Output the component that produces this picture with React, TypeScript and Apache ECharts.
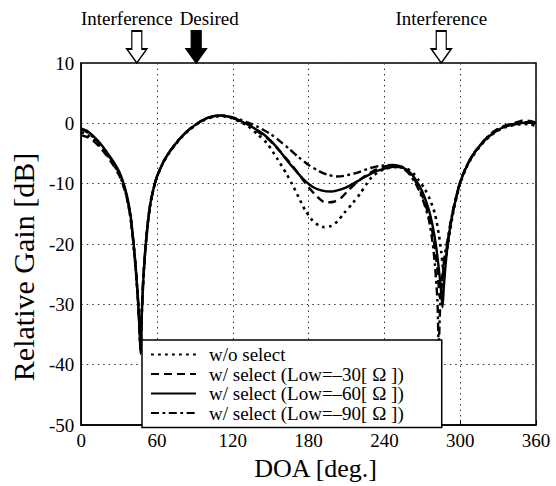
import React, { useEffect, useRef } from "react";
import * as echarts from "echarts";

// ---- data (DOA in degrees, relative gain in dB) ----
const SERIES_NAMES = [
  "w/o select",
  "w/ select (Low=–30[ Ω ])",
  "w/ select (Low=–60[ Ω ])",
  "w/ select (Low=–90[ Ω ])",
];

const woSelect: [number, number][] = [
  [0, -1.5], [5, -1.9], [10, -2.7], [15, -3.8], [20, -5.1], [25, -6.6], [30, -8.4], [33, -10], [36, -12.2],
  [39, -15.6], [41, -19.2], [43, -23.8], [45, -29.5], [46, -33], [47, -37.5], [48, -31], [49, -26.5], [50, -23],
  [51, -20.3], [53, -16], [55, -13], [58, -10.2], [60, -8.9], [65, -6.5], [70, -4.8], [75, -3.4], [80, -2.2],
  [85, -1.2], [90, -0.4], [95, 0.3], [100, 0.8], [105, 1.1], [110, 1.2], [115, 1.1], [120, 0.8], [125, 0.3],
  [131, -0.3], [140, -1.9], [147, -3.3], [155, -5.8], [162, -8.2], [167, -10.1], [172, -12.2], [177, -14.3],
  [183, -16.1], [188, -16.9], [192, -17.2], [198, -17], [203, -16.2], [208, -14.9], [215, -13.2], [221, -11.6],
  [226, -10.0], [230, -8.9], [235, -8.1], [240, -7.6], [246, -7.3], [252, -7.2], [258, -7.5], [263, -8.3],
  [267, -9.4], [272, -10.9], [276, -12.6], [280, -15], [283, -18.3], [285, -21.3], [286, -23.2], [287, -25],
  [288, -23.5], [289, -21.8], [290, -20.5], [292, -17.8], [295, -14.2], [300, -10], [305, -7.3], [310, -5.4],
  [315, -4.0], [320, -2.8], [325, -1.9], [330, -1.2], [335, -0.7], [340, -0.4], [345, -0.2], [350, -0.1],
  [355, -0.2], [360, -0.4],
];

const low30: [number, number][] = [
  [0, -2.0], [5, -2.3], [10, -3.0], [15, -4.0], [20, -5.3], [25, -6.8], [30, -8.6], [33, -10.1], [36, -12.3],
  [39, -15.6], [41, -19.2], [43, -23.8], [45, -29.5], [46, -33.2], [47, -37], [48, -31], [49, -26.3], [50, -22.8],
  [51, -20.2], [53, -16], [55, -13], [58, -10.2], [60, -8.8], [65, -6.4], [70, -4.7], [75, -3.3], [80, -2.1],
  [85, -1.1], [90, -0.3], [95, 0.4], [100, 0.9], [105, 1.2], [110, 1.3], [115, 1.2], [120, 0.9], [125, 0.5],
  [131, 0], [140, -1.4], [149, -2.8], [158, -4.8], [167, -7.0], [174, -8.9], [180, -10.6], [187, -12.2],
  [193, -13.1], [200, -13.0], [206, -12.3], [211, -11.2], [216, -10.2], [221, -9.3], [228, -8.3], [234, -7.6],
  [241, -7.1], [247, -6.9], [255, -7.3], [260, -8.2], [265, -9.8], [270, -12], [275, -15.2], [278, -18],
  [280, -20.8], [282, -24.3], [284, -29], [285, -27.5], [286, -25.5], [287, -23.8], [288, -22.3], [290, -19.8],
  [292, -17], [295, -13.8], [300, -9.7], [305, -7.1], [310, -5.2], [315, -3.8], [320, -2.6], [325, -1.6],
  [330, -0.9], [335, -0.4], [340, -0.1], [345, 0.2], [350, 0.5], [355, 0.4], [360, 0.1],
];

const low60: [number, number][] = [
  [0, -0.9], [5, -1.3], [10, -2.2], [15, -3.3], [20, -4.7], [25, -6.2], [30, -8.0], [33, -9.6], [36, -11.8],
  [39, -15.2], [41, -19.0], [43, -23.5], [45, -29.5], [46, -33.5], [47, -38.2], [48, -31.5], [49, -26.5],
  [50, -23], [51, -20.3], [53, -16], [55, -13], [58, -10.2], [60, -8.8], [65, -6.4], [70, -4.7], [75, -3.3],
  [80, -2.1], [85, -1.1], [90, -0.3], [95, 0.4], [100, 0.9], [105, 1.2], [110, 1.3], [115, 1.2], [120, 0.9],
  [125, 0.5], [131, -0.1], [140, -1.2], [146, -2.1], [155, -4.0], [162, -5.9], [170, -7.9], [176, -9.3],
  [183, -10.5], [190, -11.1], [198, -11.3], [205, -11.0], [212, -10.4], [221, -9.3], [228, -8.5], [234, -7.9],
  [240, -7.5], [247, -7.2], [255, -7.4], [260, -8.1], [265, -9.4], [270, -11.3], [275, -14.2], [278, -16.8],
  [281, -20.5], [283, -24], [285, -28], [286, -30.5], [287, -27.2], [288, -24.5], [289, -22.2], [290, -20.3],
  [292, -17.3], [295, -14], [300, -9.8], [305, -7.2], [310, -5.3], [315, -3.9], [320, -2.7], [325, -1.8],
  [330, -1.1], [335, -0.6], [340, -0.3], [345, -0.1], [350, 0.1], [355, 0.1], [360, 0],
];

const low90: [number, number][] = [
  [0, -1.0], [5, -1.5], [10, -2.4], [15, -3.5], [20, -4.9], [25, -6.4], [30, -8.2], [33, -9.8], [36, -12.0],
  [39, -15.4], [41, -19.1], [43, -23.6], [45, -29.5], [46, -33.4], [47, -37.8], [48, -31.2], [49, -26.4],
  [50, -22.9], [51, -20.2], [53, -16], [55, -13], [58, -10.2], [60, -8.8], [65, -6.4], [70, -4.7], [75, -3.3],
  [80, -2.1], [85, -1.1], [90, -0.3], [95, 0.4], [100, 0.9], [105, 1.2], [110, 1.3], [115, 1.2], [120, 1.0],
  [125, 0.7], [131, 0.2], [140, -0.6], [150, -1.8], [157, -2.9], [165, -4.3], [172, -5.6], [180, -6.9],
  [188, -7.9], [195, -8.5], [202, -8.8], [208, -8.7], [218, -8.2], [229, -7.4], [238, -7.0], [247, -6.9],
  [255, -7.5], [260, -8.5], [265, -10.1], [270, -12.4], [275, -15.8], [278, -19.5], [280, -23.5], [282, -29.5],
  [283, -37], [284, -31], [285, -27.5], [286, -25], [287, -23], [288, -21.5], [290, -19.3], [292, -16.8],
  [295, -13.7], [300, -9.7], [305, -7.1], [310, -5.2], [315, -3.8], [320, -2.6], [325, -1.7], [330, -1.0],
  [335, -0.5], [340, -0.2], [345, 0.0], [350, 0.2], [355, 0.2], [360, 0],
];

const SERIES_DATA = [woSelect, low30, low60, low90];

// arrow annotations above the plot
const ARROW_DOA = [44, 91, 285];
const ARROW_LABELS = ["Interference", "Desired", "Interference"];
const ARROW_FILLED = [false, true, false];

const FONT = "Liberation Serif";

export default function App() {
  const ref = useRef<HTMLDivElement>(null);

  useEffect(() => {
    if (!ref.current) return;
    const chart = echarts.init(ref.current, undefined, { renderer: "svg" });

    const dashTypes: any[] = [[2.8, 4.2], [8, 5], "solid", [8, 3.5, 2.8, 3.5]];
    const widths = [2.6, 2.4, 2.4, 2.4];
    const arrowPath = "path://M5 0 L15 0 L15 18 L20 18 L10 32 L0 18 L5 18 Z";
    const labelOffsets = [[-10, 0], [13, 0], [0, 0]];

    const series: any[] = SERIES_DATA.map((d, i) => ({
      name: SERIES_NAMES[i],
      type: "line",
      data: d,
      symbol: "none",
      showSymbol: false,
      smooth: 0.25,
      clip: false,
      z: 2,
      lineStyle: { color: "#000", width: widths[i], type: dashTypes[i] },
      itemStyle: { color: "rgba(0,0,0,0)", borderWidth: 0 },
    }));

    series.push({
      type: "line",
      data: [],
      symbol: "none",
      clip: false,
      markPoint: {
        symbol: arrowPath,
        symbolSize: [20, 32],
        symbolOffset: [0, "-50%"],
        silent: true,
        data: ARROW_DOA.map((x, i) => ({
          coord: [x, 10],
          name: ARROW_LABELS[i],
          itemStyle: {
            color: ARROW_FILLED[i] ? "#000" : "#fff",
            borderColor: "#000",
            borderWidth: 1.5,
          },
          label: {
            show: true,
            position: "top",
            distance: 2,
            formatter: ARROW_LABELS[i],
            offset: labelOffsets[i],
            color: "#000",
            fontFamily: FONT,
            fontSize: 19,
          },
        })),
      },
    });

    chart.setOption({
      animation: false,
      backgroundColor: "#fff",
      textStyle: { fontFamily: FONT, color: "#000" },
      grid: {
        left: 70,
        right: 20,
        top: 63,
        bottom: 51,
        show: true,
        borderColor: "#000",
        borderWidth: 1.5,
        backgroundColor: "transparent",
      },
      legend: {
        orient: "vertical",
        left: 142,
        top: 340,
        data: SERIES_NAMES,
        itemWidth: 45,
        itemHeight: 12,
        itemGap: 0.5,
        padding: [5, 38, 5, 8],
        backgroundColor: "#fff",
        borderColor: "#000",
        borderWidth: 1.5,
        borderRadius: 0,
        z: 10,
        selectedMode: false,
        itemStyle: { color: "rgba(0,0,0,0)", borderWidth: 0, opacity: 0 },
        textStyle: {
          fontFamily: FONT,
          fontSize: 19,
          lineHeight: 18,
          color: "#000",
          padding: [0, 0, 0, 8],
        },
      },
      xAxis: {
        type: "value",
        min: 0,
        max: 360,
        interval: 60,
        name: "DOA [deg.]",
        nameLocation: "middle",
        nameGap: 30,
        nameTextStyle: { fontFamily: FONT, fontSize: 26, color: "#000", padding: [0, 0, 0, 14] },
        axisLine: { show: true, onZero: false, lineStyle: { color: "#000", width: 1.5 } },
        axisTick: { show: true, inside: true, length: 5, lineStyle: { color: "#000" } },
        axisLabel: { fontFamily: FONT, fontSize: 19, color: "#000", margin: 6 },
        splitLine: { show: true, lineStyle: { color: "#333", width: 1, type: [1.5, 4] } },
      },
      yAxis: {
        type: "value",
        min: -50,
        max: 10,
        interval: 10,
        name: "Relative Gain [dB]",
        nameLocation: "middle",
        nameGap: 34,
        nameTextStyle: { fontFamily: FONT, fontSize: 30, color: "#000", padding: [0, 46, 0, 0] },
        axisLine: { show: true, onZero: false, lineStyle: { color: "#000", width: 1.5 } },
        axisTick: { show: false },
        axisLabel: { fontFamily: FONT, fontSize: 19, color: "#000", margin: 7 },
        splitLine: { show: true, lineStyle: { color: "#333", width: 1, type: [1.5, 4] } },
      },
      series,
    });

    return () => chart.dispose();
  }, []);

  return (
    <div
      ref={ref}
      style={{ position: "fixed", left: 0, top: 0, width: 556, height: 486 }}
    />
  );
}
